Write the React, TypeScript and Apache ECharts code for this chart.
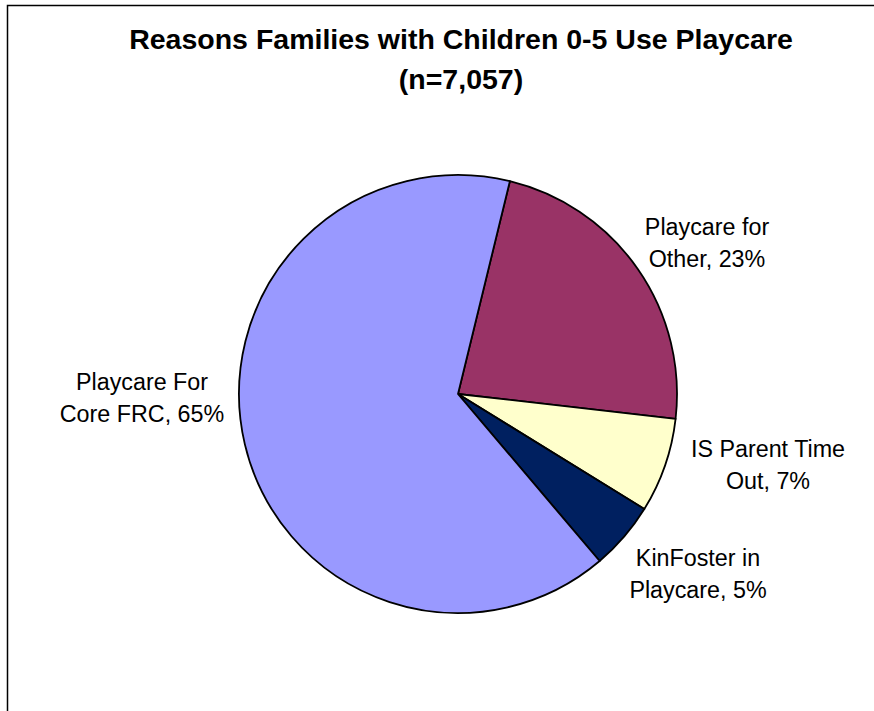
import React, { useEffect, useRef } from "react";
import * as echarts from "echarts";

// ---- data ----
const categories = [
  "Playcare for Other",
  "IS Parent Time Out",
  "KinFoster in Playcare",
  "Playcare For Core FRC",
];
const labelLines = [
  ["Playcare for", "Other"],
  ["IS Parent Time", "Out"],
  ["KinFoster in", "Playcare"],
  ["Playcare For", "Core FRC"],
];
const values = [23, 7, 5, 65];
const titleLines = ["Reasons Families with Children 0-5 Use Playcare", "(n=7,057)"];

// ---- styles / layout ----
const colors = ["#993366", "#FFFFCC", "#002060", "#9999FF"];
const labelCenters: [number, number][] = [
  [707, 243],
  [768, 465],
  [698, 574],
  [142, 398],
];
const FONT = "'Liberation Sans', Arial, sans-serif";

export default function App() {
  const ref = useRef<HTMLDivElement>(null);
  useEffect(() => {
    document.body.style.margin = "0";
    if (!ref.current) return;
    const chart = echarts.init(ref.current, undefined, { renderer: "svg" });
    chart.setOption({
      animation: false,
      backgroundColor: "#ffffff",
      title: {
        text: titleLines.join("\n"),
        left: 461,
        top: 19,
        textAlign: "center",
        padding: 0,
        textStyle: {
          fontFamily: FONT,
          fontSize: 28.5,
          fontWeight: "bold",
          color: "#000",
          lineHeight: 40,
          align: "center",
        },
      },
      graphic: [
        {
          type: "rect",
          z: -10,
          silent: true,
          shape: { x: 7.5, y: 5.5, width: 900, height: 800 },
          style: { fill: "none", stroke: "#000", lineWidth: 1.5 },
        },
      ],
      series: [
        {
          type: "pie",
          center: [458, 394],
          radius: 219,
          startAngle: 76.3,
          clockwise: true,
          avoidLabelOverlap: false,
          itemStyle: { borderColor: "#000", borderWidth: 1.8 },
          label: {
            show: true,
            position: "outside",
            fontFamily: FONT,
            fontSize: 23.3,
            lineHeight: 31.5,
            color: "#000",
            align: "center",
            formatter: (p: any) => {
              const l = labelLines[p.dataIndex];
              return l[0] + "\n" + l[1] + ", " + Math.round(p.percent) + "%";
            },
          },
          labelLine: { show: false },
          labelLayout: (p: any) => {
            const c = labelCenters[p.dataIndex];
            return { x: c[0], y: c[1], align: "center", verticalAlign: "middle" };
          },
          data: categories.map((name, i) => ({
            name,
            value: values[i],
            itemStyle: { color: colors[i] },
          })),
        },
      ],
    });
    return () => chart.dispose();
  }, []);
  return (
    <div
      ref={ref}
      style={{ position: "absolute", left: 0, top: 0, width: 874, height: 711 }}
    />
  );
}
